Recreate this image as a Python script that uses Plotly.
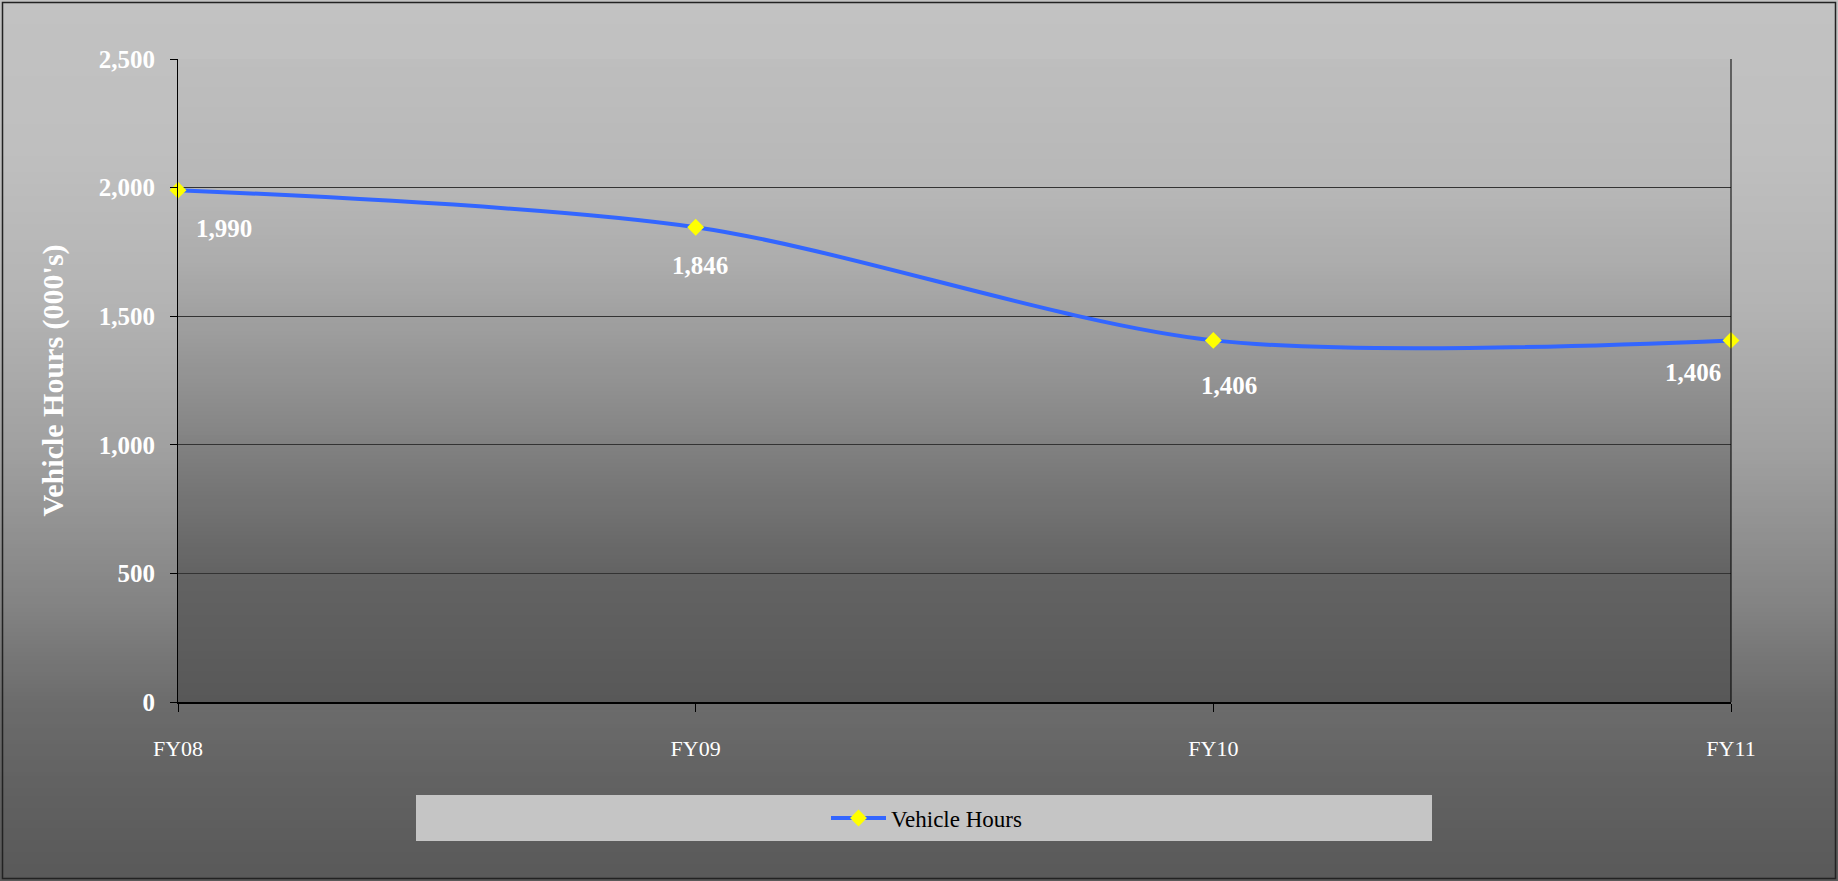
import plotly.graph_objects as go
import numpy as np

# ---- data ----
categories = ["FY08", "FY09", "FY10", "FY11"]
vehicle_hours = [1990, 1846, 1406, 1406]
label_texts = ["1,990", "1,846", "1,406", "1,406"]
y_tick_values = [0, 500, 1000, 1500, 2000, 2500]
y_tick_labels = ["0", "500", "1,000", "1,500", "2,000", "2,500"]

# ---- layout geometry (pixels) ----
W, H = 1838, 881
L, R, T, B = 178, 1838 - 1731, 59, 881 - 702
PW, PH = W - L - R, H - T - B

FONT = "Palatino Linotype, Book Antiqua, Palatino, Liberation Serif, serif"

def px_to_paper_x(px):
    return (px - L) / PW

def px_to_paper_y(py):
    return (H - B - py) / PH

def gray(v):
    v = int(round(v))
    return f"rgb({v},{v},{v})"

shapes = []
# outer background gradient
outer_stops_y = [0, 150, 300, 450, 600, 702, 790, 881]
outer_stops_v = [194, 191, 180, 160, 132, 108, 97, 89]
step = 4
for y0 in range(0, H, step):
    y1 = min(H, y0 + step + 1)
    v = np.interp(y0 + step / 2, outer_stops_y, outer_stops_v)
    shapes.append(dict(type="rect", xref="paper", yref="paper", layer="below",
                       x0=px_to_paper_x(0), x1=px_to_paper_x(W),
                       y0=px_to_paper_y(y1), y1=px_to_paper_y(y0),
                       fillcolor=gray(v), line=dict(width=0)))
# plot area gradient
plot_stops_y = [59, 188, 265, 380, 490, 573, 702]
plot_stops_v = [190, 183, 172, 146, 118, 99, 88]
for y0 in range(T, H - B, step):
    y1 = min(H - B, y0 + step + 1)
    v = np.interp(y0 + step / 2, plot_stops_y, plot_stops_v)
    shapes.append(dict(type="rect", xref="paper", yref="paper", layer="below",
                       x0=0, x1=1, y0=px_to_paper_y(y1), y1=px_to_paper_y(y0),
                       fillcolor=gray(v), line=dict(width=0)))
# legend box
shapes.append(dict(type="rect", xref="paper", yref="paper", layer="below",
                   x0=px_to_paper_x(416), x1=px_to_paper_x(1432),
                   y0=px_to_paper_y(841), y1=px_to_paper_y(795),
                   fillcolor="#c5c5c5", line=dict(width=0)))
# outer border
shapes.append(dict(type="rect", xref="paper", yref="paper", layer="above",
                   x0=px_to_paper_x(2.5), x1=px_to_paper_x(W - 2.5),
                   y0=px_to_paper_y(H - 2.5), y1=px_to_paper_y(2.5),
                   fillcolor="rgba(0,0,0,0)", line=dict(color="#222", width=1.5)))
# right border of plot area
shapes.append(dict(type="line", xref="paper", yref="paper", layer="above",
                   x0=1, x1=1, y0=0, y1=1, line=dict(color="black", width=1)))

fig = go.Figure()
fig.add_trace(go.Scatter(
    x=list(range(len(categories))), y=vehicle_hours,
    mode="lines+markers", name="Vehicle Hours",
    line=dict(color="#3366FF", width=4, shape="spline", smoothing=0.85),
    marker=dict(symbol="diamond", size=13, color="#FFFF00",
                line=dict(width=0)),
    cliponaxis=False,
))

label_shifts = [(46, -38), (4, -38), (16, -45), (-38, -32)]
annotations = []
for i, (txt, val) in enumerate(zip(label_texts, vehicle_hours)):
    dx, dy = label_shifts[i]
    annotations.append(dict(x=i, y=val, xref="x", yref="y", text=txt,
                            showarrow=False, xshift=dx, yshift=dy,
                            font=dict(family=FONT, size=25, color="white",
                                      weight="bold")))

fig.update_layout(
    width=W, height=H,
    margin=dict(l=L, r=R, t=T, b=B, autoexpand=False),
    paper_bgcolor="#909090",
    plot_bgcolor="rgba(0,0,0,0)",
    shapes=shapes,
    annotations=annotations,
    showlegend=True,
    legend=dict(x=px_to_paper_x(826), y=px_to_paper_y(818),
                xanchor="left", yanchor="middle", orientation="h",
                bgcolor="rgba(0,0,0,0)", itemwidth=55,
                font=dict(family=FONT, size=23, color="black")),
    xaxis=dict(
        range=[0, len(categories) - 1],
        tickmode="array", tickvals=list(range(len(categories))),
        ticktext=categories,
        showgrid=False, zeroline=False,
        showline=True, linecolor="black", linewidth=2, mirror=False,
        ticks="outside", ticklen=8, tickcolor="black", tickwidth=1,
        ticklabelstandoff=18,
        tickfont=dict(family=FONT, size=22, color="white"),
        fixedrange=True,
    ),
    yaxis=dict(
        range=[0, 2500],
        tickmode="array", tickvals=y_tick_values, ticktext=y_tick_labels,
        showgrid=True, gridcolor="#333333", gridwidth=1,
        zeroline=False,
        showline=True, linecolor="black", linewidth=1, mirror=False,
        ticks="outside", ticklen=7, tickcolor="black", tickwidth=1,
        ticklabelstandoff=10,
        tickfont=dict(family=FONT, size=25, color="white", weight="bold"),
        title=dict(text="Vehicle Hours (000's)", standoff=26,
                   font=dict(family=FONT, size=30, color="white",
                             weight="bold")),
        fixedrange=True,
    ),
)

fig.write_html("out.html",
               config={"displayModeBar": False},
               post_script="document.body.style.margin='0';"
                           "document.body.style.overflow='hidden';")
